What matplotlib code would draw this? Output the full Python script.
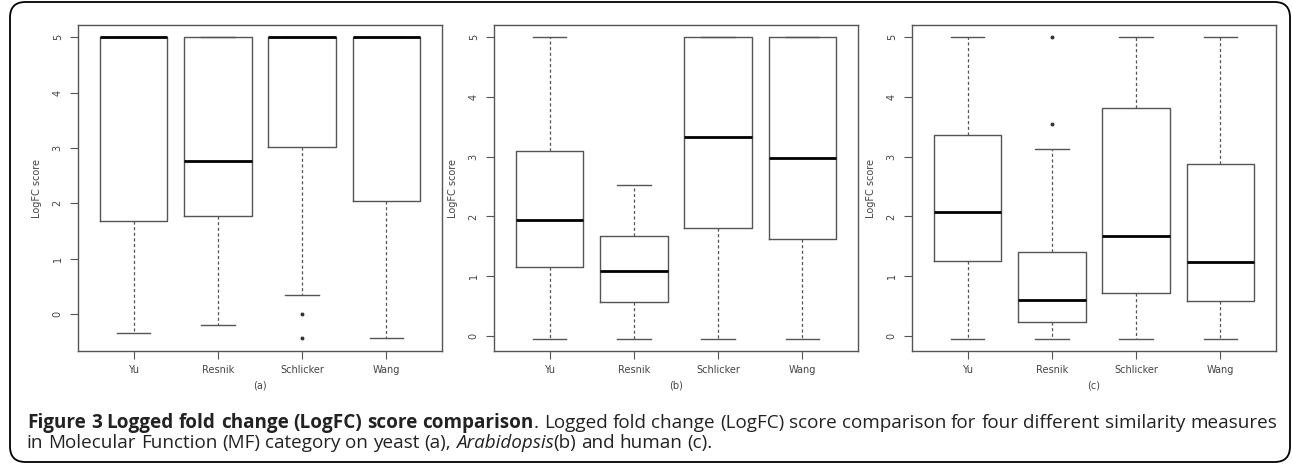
import numpy as np
import matplotlib
matplotlib.use("Agg")
from matplotlib import pyplot as plt
from matplotlib.patches import FancyBboxPatch

methods = ["Yu", "Resnik", "Schlicker", "Wang"]
panels = ["(a)", "(b)", "(c)"]

# per panel: q1, median, q3, lower whisker, upper whisker, outliers
q1 = [[1.68, 1.77, 3.01, 2.04],
      [1.15, 0.57, 1.80, 1.63],
      [1.26, 0.24, 0.72, 0.59]]
med = [[5.0, 2.76, 5.0, 5.0],
       [1.94, 1.09, 3.32, 2.98],
       [2.07, 0.61, 1.68, 1.23]]
q3 = [[5.0, 5.0, 5.0, 5.0],
      [3.09, 1.67, 5.0, 5.0],
      [3.36, 1.40, 3.81, 2.87]]
wlo = [[-0.35, -0.20, 0.34, -0.44],
       [-0.05, -0.05, -0.05, -0.05],
       [-0.05, -0.05, -0.05, -0.05]]
whi = [[5.0, 5.0, 5.0, 5.0],
       [5.0, 2.52, 5.0, 5.0],
       [5.0, 3.12, 5.0, 5.0]]
outl = [[[], [], [-0.01, -0.44], []],
        [[], [], [], []],
        [[], [3.55, 5.0], [], []]]
ylims = [(-0.67, 5.22), (-0.25, 5.2), (-0.25, 5.2)]

W, H = 1292, 469
fig = plt.figure(figsize=(W / 100, H / 100), dpi=100)

# rounded frame round the whole figure
fig.patches.append(FancyBboxPatch((10 / W, 7 / H), 1280 / W, 460 / H,
                                  boxstyle="round,pad=0,rounding_size=0.012",
                                  transform=fig.transFigure, fill=False,
                                  ec="black", lw=1.3, mutation_aspect=W / H))

lefts = [78, 494, 912]
gray = "#555555"
for p in range(3):
    ax = fig.add_axes([lefts[p] / W, 1 - 351 / H, 364 / W, 326 / H])
    stats = []
    for i in range(4):
        stats.append(dict(med=med[p][i], q1=q1[p][i], q3=q3[p][i],
                          whislo=wlo[p][i], whishi=whi[p][i],
                          fliers=outl[p][i]))
    ax.bxp(stats, positions=[1, 2, 3, 4], widths=0.8, capwidths=0.4,
           boxprops=dict(color=gray, lw=1.0),
           whiskerprops=dict(color=gray, lw=0.9, linestyle=(0, (2.5, 2))),
           capprops=dict(color=gray, lw=1.0),
           medianprops=dict(color="black", lw=2.0),
           flierprops=dict(marker="o", markersize=1.8, markerfacecolor="#333333",
                           markeredgecolor="#333333"))
    ax.set_xlim(0.34, 4.66)
    ax.set_ylim(*ylims[p])
    ax.set_yticks([0, 1, 2, 3, 4, 5])
    ax.set_yticklabels(["0", "1", "2", "3", "4", "5"], rotation=90, va="center")
    ax.set_xticks([1, 2, 3, 4])
    ax.set_xticklabels(methods)
    ax.tick_params(labelsize=7, colors=gray, labelcolor="#444444", length=6, width=0.8)
    ax.tick_params(axis="x", pad=4)
    ax.tick_params(axis="y", pad=5)
    for s in ax.spines.values():
        s.set_color(gray)
        s.set_linewidth(1.0)
    ax.set_ylabel("LogFC score", fontsize=7, color="#444444", labelpad=8)
    ax.set_xlabel(panels[p], fontsize=7, color="#444444", labelpad=4)

# caption, placed word by word
line1 = [("Figure", "bold", "normal", False), ("3", "bold", "normal", False),
         ("Logged", "bold", "normal", False), ("fold", "bold", "normal", False),
         ("change", "bold", "normal", False), ("(LogFC)", "bold", "normal", False),
         ("score", "bold", "normal", False), ("comparison", "bold", "normal", False),
         (".", "normal", "normal", True)]
for w in "Logged fold change (LogFC) score comparison for four different similarity measures".split():
    line1.append((w, "normal", "normal", False))
line2 = []
for w in "in Molecular Function (MF) category on yeast (a),".split():
    line2.append((w, "normal", "normal", False))
line2.append(("Arabidopsis", "normal", "italic", False))
line2.append(("(b)", "normal", "normal", True))
for w in "and human (c).".split():
    line2.append((w, "normal", "normal", False))

fam = ["Open Sans", "DejaVu Sans"]
fig.canvas.draw()
rend = fig.canvas.get_renderer()


def measure(s, fs, wt="normal", st="normal"):
    t = fig.text(0, 0, s, fontsize=fs, fontweight=wt, style=st, family=fam)
    w = t.get_window_extent(rend).width
    t.remove()
    return w


def natural(tokens, fs):
    sp = measure("n n", fs) - measure("nn", fs)
    tot = 0
    for k, (tok, wt, st, att) in enumerate(tokens):
        tot += measure(tok, fs, wt, st)
        if k > 0 and not att:
            tot += sp
    return tot, sp


x0, x1 = 27, 1277
base = 10.0
nat, _ = natural(line1, base)
fs = base * (x1 - x0) / nat


def place(tokens, y, justify):
    widths = [measure(tok, fs, wt, st) for tok, wt, st, att in tokens]
    sp = measure("n n", fs) - measure("nn", fs)
    ngaps = sum(1 for k in range(1, len(tokens)) if not tokens[k][3])
    gap = (x1 - x0 - sum(widths)) / ngaps if justify else sp
    x = float(x0)
    for k, (tok, wt, st, att) in enumerate(tokens):
        if k > 0 and not att:
            x += gap
        fig.text(x / W, y / H, tok, fontsize=fs, fontweight=wt, style=st,
                 family=fam, color="#222222", va="baseline", ha="left")
        x += widths[k]


place(line1, 469 - 428, True)
place(line2, 469 - 448, False)

fig.savefig("out.png", dpi=100)
